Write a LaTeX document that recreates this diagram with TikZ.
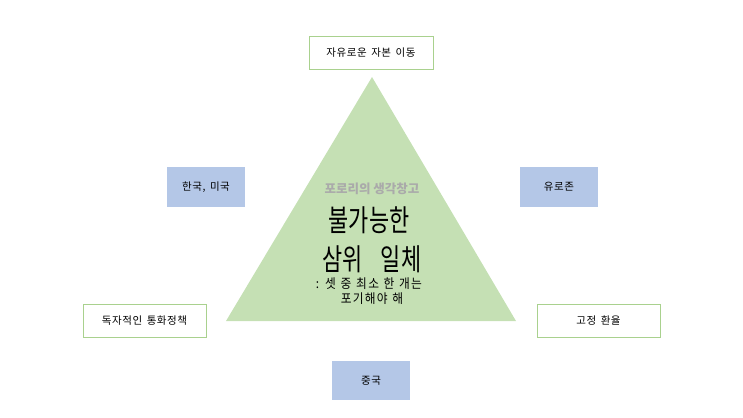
\documentclass[tikz,border=0pt]{standalone}
\usepackage{fontspec}
\setmainfont{Noto Sans CJK KR}
\newfontfamily\boxfont[LetterSpace=5, WordSpace=1.6]{Noto Sans CJK KR}
\newfontfamily\bigfont[FakeStretch=0.73]{Noto Sans CJK KR}
\newfontfamily\notefont[FakeStretch=0.9, LetterSpace=10, WordSpace=1.2]{Noto Sans CJK KR}
\usetikzlibrary{positioning}
\definecolor{triGreen}{RGB}{197,224,180}
\definecolor{lineGreen}{RGB}{169,209,142}
\definecolor{boxBlue}{RGB}{180,199,231}
\definecolor{capGray}{RGB}{170,170,170}

\begin{document}
\begin{tikzpicture}[x=1pt, y=-1pt,
	outbox/.style={rectangle, draw=lineGreen, line width=0.8pt, fill=white, minimum height=33pt, font=\boxfont\fontsize{10.5}{12}\selectfont},
	inbox/.style={rectangle, fill=boxBlue, minimum width=78pt, minimum height=40pt, font=\boxfont\fontsize{10.5}{12}\selectfont},
	bigtext/.style={inner sep=0pt, font=\bigfont\fontsize{30}{34}\selectfont},
	notetext/.style={inner sep=0pt, font=\notefont\fontsize{13}{15}\selectfont}]
				\useasboundingbox (0,0) rectangle (743,417);
				% triangle
				\coordinate (apex) at (372,77);
				\coordinate (bl) at (226,321);
				\coordinate (br) at (516,321);
				\fill[triGreen] (apex) -- (bl) -- (br) -- cycle;
				
				\node[outbox, minimum width=124pt] (mobility) at (371,52.5) {자유로운 자본 이동};
				\node[outbox, minimum width=123pt] (policy) at (144.5,321) {독자적인 통화정책};
				\node[outbox, minimum width=123pt] (fixed) at (598.5,321) {고정 환율};
				
				\node[inbox] (usa) at (206,187) {한국, 미국};
				\node[inbox] (euro) at (559,187) {유로존};
				\node[inbox, minimum height=39pt] (china) at (371,380.5) {중국};
				
				% title text
				\node[inner sep=0pt, text=capGray, font=\bfseries\fontsize{12.5}{14}\selectfont] (blog) at (372,189) {포로리의 생각창고};
				\node[bigtext] (imp) at (369,220) {불가능한};
				\node[bigtext] (trinity) at (372,259) {삼위\hspace{18pt}일체};
				\node[notetext] (give) at (369,284) {: 셋 중 최소 한 개는};
				\node[notetext] (up) at (372,299) {포기해야 해};
			\end{tikzpicture}
\end{document}
